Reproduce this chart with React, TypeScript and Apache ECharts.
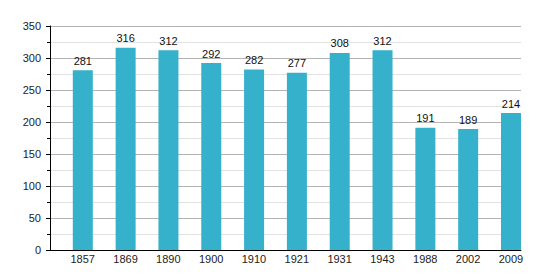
import React, { useEffect, useRef } from "react";
import * as echarts from "echarts";

const years = ["1857", "1869", "1890", "1900", "1910", "1921", "1931", "1943", "1988", "2002", "2009"];
const population = [281, 316, 312, 292, 282, 277, 308, 312, 191, 189, 214];
const spacer = years.map(() => null);

export default function App() {
  const ref = useRef<HTMLDivElement>(null);
  useEffect(() => {
    const chart = echarts.init(ref.current!, null, { renderer: "svg" });
    chart.setOption({
      animation: false,
      grid: { left: 50, right: 19, top: 26, bottom: 30, containLabel: false },
      xAxis: {
        type: "category",
        data: years,
        axisLine: { lineStyle: { color: "#000", width: 1 } },
        axisTick: { show: false },
        axisLabel: {
          color: "#222",
          fontSize: 11,
          fontFamily: "Liberation Sans, Arial, sans-serif",
          margin: 3,
          padding: [0, 0, 0, 22.6],
        },
      },
      yAxis: {
        type: "value",
        min: 0,
        max: 350,
        interval: 50,
        axisLine: { show: true, lineStyle: { color: "#000", width: 1 } },
        axisTick: { show: true, length: 4, lineStyle: { color: "#000" } },
        minorTick: { show: true, splitNumber: 2, length: 3, lineStyle: { color: "#000" } },
        splitLine: { show: true, lineStyle: { color: "#b4b4b4", width: 1 } },
        minorSplitLine: { show: true, lineStyle: { color: "#e2e2e2", width: 1 } },
        axisLabel: {
          color: "#222",
          fontSize: 11,
          fontFamily: "Liberation Sans, Arial, sans-serif",
          margin: 9,
        },
      },
      series: [
        {
          type: "bar",
          data: spacer,
          barWidth: 22.8,
          barGap: 0,
          itemStyle: { color: "transparent" },
          silent: true,
        },
        {
          type: "bar",
          data: population,
          barWidth: 20,
          barGap: 0,
          itemStyle: { color: "#35b1cb" },
          label: {
            show: true,
            position: "top",
            distance: 4,
            color: "#111",
            fontSize: 11,
            fontFamily: "Liberation Sans, Arial, sans-serif",
          },
        },
      ],
    });
    return () => chart.dispose();
  }, []);
  return <div ref={ref} style={{ width: 540, height: 280, margin: -8 }} />;
}
